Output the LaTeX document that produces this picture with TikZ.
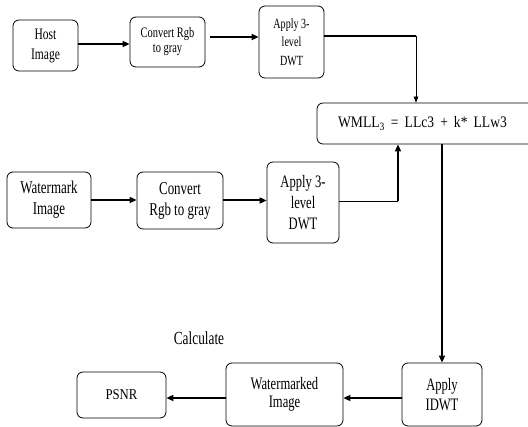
\documentclass[tikz,border=0pt]{standalone}
\usepackage{fontspec}
\setmainfont{Liberation Serif}
\newfontfamily\cnd[FakeStretch=0.72]{Liberation Serif}
\newfontfamily\snd[FakeStretch=0.85]{Liberation Serif}
\usetikzlibrary{arrows.meta}
\tikzset{
  box/.style={draw, rounded corners=6pt, align=center, inner sep=0pt, line width=0.8pt},
  thickarr/.style={-{Triangle[length=7pt,width=6pt]}, line width=2pt},
  thinarr/.style={-{Triangle[length=6pt,width=4.5pt]}, line width=0.8pt},
  thickline/.style={line width=2.2pt},
  thinline/.style={line width=0.9pt}
}
\begin{document}
\begin{tikzpicture}[x=1pt,y=-1pt]
\useasboundingbox (0,0) rectangle (528,427);
% top row
\node[box, font=\cnd\fontsize{16}{20}\selectfont, minimum width=65pt, minimum height=51pt] (host) at (45.5,45.5) {Host\\Image};
\node[box, font=\cnd\fontsize{14.5}{15}\selectfont, minimum width=75pt, minimum height=50pt] (conv1) at (167.5,42) {Convert Rgb\\to gray};
\node[box, font=\cnd\fontsize{14}{18.5}\selectfont, minimum width=65pt, minimum height=72pt] (dwt1) at (291.5,42) {Apply 3-\\level\\DWT};
% formula box
\node[box, font=\snd\fontsize{16}{18}\selectfont, minimum width=223pt, minimum height=41pt] (wmll) at (428.5,123.5) {\hspace*{-12pt}WMLL\textsubscript{3} \,=\, LLc3 \,+\, k* \,LLw3};
% middle row
\node[box, font=\cnd\fontsize{18}{21}\selectfont, minimum width=84pt, minimum height=56pt] (wm) at (49,200) {Watermark\\Image};
\node[box, font=\cnd\fontsize{18}{21}\selectfont, minimum width=86pt, minimum height=57pt] (conv2) at (180,200.5) {Convert\\Rgb to gray};
\node[box, font=\cnd\fontsize{17.5}{21}\selectfont, minimum width=72pt, minimum height=81pt] (dwt2) at (303,202.5) {Apply 3-\\level\\DWT};
% bottom row
\node[box, font=\cnd\fontsize{17.5}{20}\selectfont, minimum width=80pt, minimum height=63pt] (idwt) at (442,394.5) {Apply\\IDWT};
\node[box, font=\cnd\fontsize{17.5}{18}\selectfont, minimum width=117pt, minimum height=63pt] (wmd) at (284.5,394.5) {Watermarked\\Image};
\node[box, font=\snd\fontsize{15}{18}\selectfont, minimum width=89pt, minimum height=46pt] (psnr) at (121.5,395) {PSNR};
\node[font=\cnd\fontsize{18.5}{20}\selectfont] (calc) at (199,338) {Calculate};
% connectors top
\draw[thickarr] ([yshift=1.5pt]host.east) -- ([yshift=1.5pt]conv1.west |- host.east);
\draw[thickarr, shorten <=5pt] ([yshift=5pt]conv1.east) -- ([yshift=5pt]conv1.east -| dwt1.west);
\coordinate (t1) at (416,36);
\draw[thickline] ([yshift=6pt]dwt1.east) -- (t1);
\draw[thinarr] (t1) -- (t1 |- wmll.north);
% connectors middle
\draw[thickarr] (wm.east) -- (conv2.west |- wm.east);
\draw[thickarr] (conv2.east) -- (dwt2.west |- conv2.east);
\coordinate (t2) at (398,201);
\draw[thinline] ([yshift=1.5pt]dwt2.east) -- (t2);
\draw[thickarr] (t2) -- (t2 |- wmll.south);
% down to IDWT
\draw[thickarr] (idwt.north |- wmll.south) -- (idwt.north);
% bottom
\draw[thickarr] ([yshift=-3.5pt]idwt.west) -- ([yshift=-3.5pt]idwt.west -| wmd.east);
\draw[thickarr] ([yshift=-3.5pt]wmd.west) -- ([yshift=-3.5pt]wmd.west -| psnr.east);
\end{tikzpicture}
\end{document}
